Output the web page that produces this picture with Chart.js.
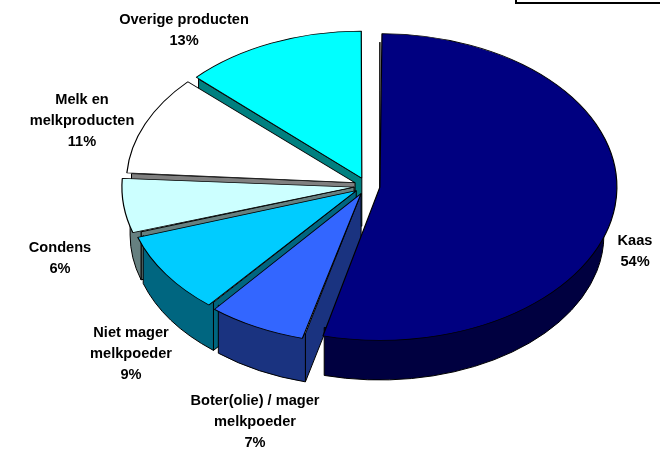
<!DOCTYPE html>
<html>
<head>
<meta charset="utf-8">
<title>Zuivelproducten</title>
<script src="https://cdn.jsdelivr.net/npm/chart.js@4/dist/chart.umd.min.js"></script>
<style>
    body { margin: 0; background: #fff; }
    #wrap { position: relative; width: 660px; height: 450px; overflow: hidden; }
    #box { position: absolute; left: 515px; top: -10px; width: 150px; height: 10px; border: 2px solid #000; }
</style>
</head>
<body>
<div id="wrap">
    <div id="box"></div>
    <canvas id="chart" width="660" height="450"></canvas>
</div>
<script>
// Chart data, clockwise from the top
const categories = ['Kaas', 'Boter(olie) / mager melkpoeder', 'Niet mager melkpoeder', 'Condens', 'Melk en melkproducten', 'Overige producten'];
const shares = [54, 7, 9, 6, 11, 13];
const labelLines = [['Kaas'], ['Boter(olie) / mager', 'melkpoeder'], ['Niet mager', 'melkpoeder'], ['Condens'], ['Melk en', 'melkproducten'], ['Overige producten']];

// Styling
const topColors = ['#000080', '#3366FF', '#00CCFF', '#CCFFFF', '#FFFFFF', '#00FFFF'];
const wallColors = ['#000040', '#1A3380', '#006680', '#668080', '#808080', '#008080'];
const labelAnchors = [[635, 241], [255, 401], [131, 333], [60, 248], [82, 100], [184, 20]];
const pieCenter = [367, 186];
const tilt = 0.647;
const depth = 48;
const explode = 52; // chart.js draws this at a quarter
const lineHeight = 21;

// Where a point of the flat pie ends up on the tilted one
function project(chart, arc, angle) {
    const offset = arc.options.offset / 4;
    const mid = (arc.startAngle + arc.endAngle) / 2;
    return {
        x: pieCenter[0] + Math.cos(mid) * offset,
        y: pieCenter[1] + Math.sin(mid) * offset * tilt,
        rx: arc.outerRadius,
        ry: arc.outerRadius * tilt,
        edgeX: Math.cos(angle) * arc.outerRadius,
        edgeY: Math.sin(angle) * arc.outerRadius * tilt
    };
}

function drawWalls(chart) {
    const ctx = chart.ctx;
    const arcs = chart.getDatasetMeta(0).data;
    ctx.save();
    ctx.lineWidth = 1;
    ctx.strokeStyle = '#000';
    ctx.lineJoin = 'round';
    // back to front, so the slices at the bottom overlap the others
    for (let i = arcs.length - 1; i >= 0; i--) {
        const arc = arcs[i];
        const p = project(chart, arc, arc.startAngle);
        ctx.fillStyle = wallColors[i];

        // cut side
        ctx.beginPath();
        ctx.moveTo(p.x, p.y);
        ctx.lineTo(p.x + p.edgeX, p.y + p.edgeY);
        ctx.lineTo(p.x + p.edgeX, p.y + p.edgeY + depth);
        ctx.lineTo(p.x, p.y + depth);
        ctx.closePath();
        ctx.fill();
        ctx.stroke();

        // round side, only the front half of the pie shows it
        const from = Math.max(arc.startAngle, 0);
        const to = Math.min(arc.endAngle, Math.PI);
        if (to > from) {
            ctx.beginPath();
            ctx.ellipse(p.x, p.y, p.rx, p.ry, 0, from, to);
            ctx.ellipse(p.x, p.y + depth, p.rx, p.ry, 0, to, from, true);
            ctx.closePath();
            ctx.fill();
            ctx.stroke();
        }
    }
    ctx.restore();
}

function drawLabels(chart) {
    const ctx = chart.ctx;
    ctx.save();
    ctx.fillStyle = '#000';
    ctx.font = 'bold 14.6px "Liberation Sans", Arial, sans-serif';
    ctx.textAlign = 'center';
    ctx.textBaseline = 'middle';
    labelLines.forEach((lines, i) => {
        const [x, y] = labelAnchors[i];
        lines.concat(shares[i] + '%').forEach((text, n) => {
            ctx.fillText(text, x, y + n * lineHeight);
        });
    });
    ctx.restore();
}

const tiltedPie = {
    id: 'tiltedPie',
    beforeDatasetsDraw(chart) {
        drawWalls(chart);
        const arc = chart.getDatasetMeta(0).data[0];
        const ctx = chart.ctx;
        ctx.save();
        ctx.translate(pieCenter[0], pieCenter[1]);
        ctx.scale(1, tilt);
        ctx.translate(-arc.x, -arc.y);
    },
    afterDatasetsDraw(chart) {
        chart.ctx.restore();
        drawLabels(chart);
    }
};

document.addEventListener('DOMContentLoaded', function() {
    new Chart(document.getElementById('chart'), {
        type: 'pie',
        data: {
            labels: categories,
            datasets: [{
                data: shares,
                backgroundColor: topColors,
                borderColor: '#000',
                borderWidth: 1.2,
                offset: explode,
                clip: false
            }]
        },
        options: {
            responsive: false,
            animation: false,
            radius: 224,
            plugins: {
                legend: { display: false },
                tooltip: { enabled: false }
            }
        },
        plugins: [tiltedPie]
    });
});
</script>
</body>
</html>
